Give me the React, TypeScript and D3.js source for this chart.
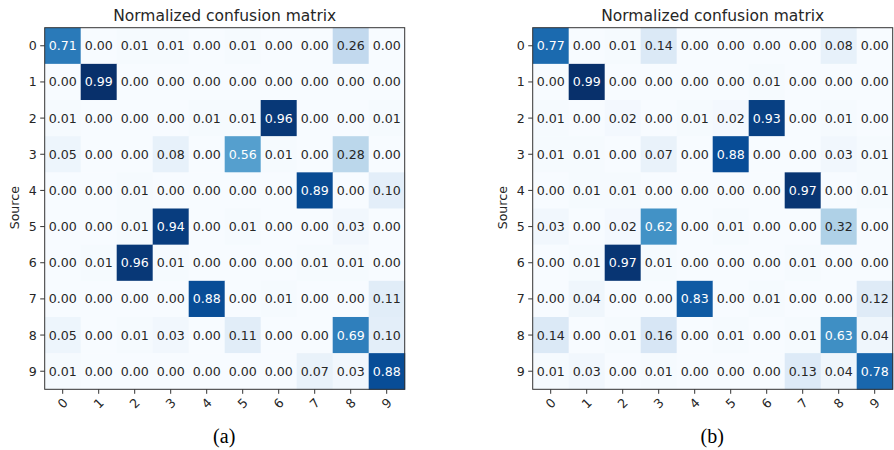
import React, { useEffect, useRef } from "react";
import * as d3 from "d3";

const classes = ["0", "1", "2", "3", "4", "5", "6", "7", "8", "9"];

// (a) rows = source, cols = predicted
const matrixA = [
  [0.71, 0.0, 0.01, 0.01, 0.0, 0.01, 0.0, 0.0, 0.26, 0.0],
  [0.0, 0.99, 0.0, 0.0, 0.0, 0.0, 0.0, 0.0, 0.0, 0.0],
  [0.01, 0.0, 0.0, 0.0, 0.01, 0.01, 0.96, 0.0, 0.0, 0.01],
  [0.05, 0.0, 0.0, 0.08, 0.0, 0.56, 0.01, 0.0, 0.28, 0.0],
  [0.0, 0.0, 0.01, 0.0, 0.0, 0.0, 0.0, 0.89, 0.0, 0.1],
  [0.0, 0.0, 0.01, 0.94, 0.0, 0.01, 0.0, 0.0, 0.03, 0.0],
  [0.0, 0.01, 0.96, 0.01, 0.0, 0.0, 0.0, 0.01, 0.01, 0.0],
  [0.0, 0.0, 0.0, 0.0, 0.88, 0.0, 0.01, 0.0, 0.0, 0.11],
  [0.05, 0.0, 0.01, 0.03, 0.0, 0.11, 0.0, 0.0, 0.69, 0.1],
  [0.01, 0.0, 0.0, 0.0, 0.0, 0.0, 0.0, 0.07, 0.03, 0.88],
];

// (b)
const matrixB = [
  [0.77, 0.0, 0.01, 0.14, 0.0, 0.0, 0.0, 0.0, 0.08, 0.0],
  [0.0, 0.99, 0.0, 0.0, 0.0, 0.0, 0.01, 0.0, 0.0, 0.0],
  [0.01, 0.0, 0.02, 0.0, 0.01, 0.02, 0.93, 0.0, 0.01, 0.0],
  [0.01, 0.01, 0.0, 0.07, 0.0, 0.88, 0.0, 0.0, 0.03, 0.01],
  [0.0, 0.01, 0.01, 0.0, 0.0, 0.0, 0.0, 0.97, 0.0, 0.01],
  [0.03, 0.0, 0.02, 0.62, 0.0, 0.01, 0.0, 0.0, 0.32, 0.0],
  [0.0, 0.01, 0.97, 0.01, 0.0, 0.0, 0.0, 0.01, 0.0, 0.0],
  [0.0, 0.04, 0.0, 0.0, 0.83, 0.0, 0.01, 0.0, 0.0, 0.12],
  [0.14, 0.0, 0.01, 0.16, 0.0, 0.01, 0.0, 0.01, 0.63, 0.04],
  [0.01, 0.03, 0.0, 0.01, 0.0, 0.0, 0.0, 0.13, 0.04, 0.78],
];

const panels = [
  { matrix: matrixA, caption: "(a)", left: 44.7 },
  { matrix: matrixB, caption: "(b)", left: 532.7 },
];

const width = 894;
const height = 450;
const top = 27.7;
const size = 360;
const font = "'DejaVu Sans', sans-serif";

function App() {
  const ref = useRef<SVGSVGElement>(null);

  useEffect(() => {
    const svg = d3.select(ref.current);
    svg.selectAll("*").remove();

    const blues = d3.schemeBlues[9];

    panels.forEach((p) => {
      const flat = p.matrix.flat();
      const vmax = d3.max(flat) as number;
      const vmin = d3.min(flat) as number;
      const color = d3
        .scaleLinear<string>()
        .domain(blues.map((_, i) => vmin + ((vmax - vmin) * i) / (blues.length - 1)))
        .range(blues)
        .interpolate(d3.interpolateRgb)
        .clamp(true);

      const x = d3.scaleBand().domain(classes).range([0, size]);
      const y = d3.scaleBand().domain(classes).range([0, size + 1.6]);

      const g = svg.append("g").attr("transform", `translate(${p.left},${top})`);

      const cells = p.matrix.flatMap((row, i) =>
        row.map((v, j) => ({ r: classes[i], c: classes[j], v }))
      );

      g.selectAll("rect.cell")
        .data(cells)
        .enter()
        .append("rect")
        .attr("class", "cell")
        .attr("x", (d) => x(d.c) as number)
        .attr("y", (d) => y(d.r) as number)
        .attr("width", x.bandwidth() + 0.5)
        .attr("height", y.bandwidth() + 0.5)
        .attr("fill", (d) => color(d.v));

      g.selectAll("text.val")
        .data(cells)
        .enter()
        .append("text")
        .attr("class", "val")
        .attr("x", (d) => (x(d.c) as number) + x.bandwidth() / 2)
        .attr("y", (d) => (y(d.r) as number) + y.bandwidth() / 2)
        .attr("text-anchor", "middle")
        .attr("dominant-baseline", "central")
        .attr("font-family", font)
        .attr("font-size", 12.6)
        .attr("fill", (d) => (d.v > vmax / 2 ? "#ffffff" : "#262626"))
        .text((d) => d.v.toFixed(2));

      // frame
      g.append("rect")
        .attr("x", 0)
        .attr("y", 0)
        .attr("width", size)
        .attr("height", size + 1.6)
        .attr("fill", "none")
        .attr("stroke", "#333")
        .attr("stroke-width", 1);

      // y axis
      const yAxis = g.append("g").attr("class", "y--axis");
      classes.forEach((c) => {
        const cy = (y(c) as number) + y.bandwidth() / 2;
        yAxis
          .append("line")
          .attr("x1", -4.5)
          .attr("x2", 0)
          .attr("y1", cy)
          .attr("y2", cy)
          .attr("stroke", "#333");
        yAxis
          .append("text")
          .attr("x", -8)
          .attr("y", cy)
          .attr("text-anchor", "end")
          .attr("dominant-baseline", "central")
          .attr("font-family", font)
          .attr("font-size", 12.6)
          .attr("fill", "#262626")
          .text(c);
      });

      // x axis
      const xAxis = g.append("g").attr("class", "x--axis").attr("transform", `translate(0,${size + 1.6})`);
      classes.forEach((c) => {
        const cx = (x(c) as number) + x.bandwidth() / 2;
        xAxis
          .append("line")
          .attr("x1", cx)
          .attr("x2", cx)
          .attr("y1", 0)
          .attr("y2", 4.5)
          .attr("stroke", "#333");
        xAxis
          .append("text")
          .attr("transform", `translate(${cx},14) rotate(-45)`)
          .attr("text-anchor", "middle")
          .attr("dominant-baseline", "central")
          .attr("font-family", font)
          .attr("font-size", 12.6)
          .attr("fill", "#262626")
          .text(c);
      });

      g.append("text")
        .attr("transform", `translate(-30,${size / 2}) rotate(-90)`)
        .attr("text-anchor", "middle")
        .attr("dominant-baseline", "central")
        .attr("font-family", font)
        .attr("font-size", 12.6)
        .attr("fill", "#262626")
        .text("Source");

      g.append("text")
        .attr("x", size / 2)
        .attr("y", -7)
        .attr("text-anchor", "middle")
        .attr("font-family", font)
        .attr("font-size", 15.5)
        .attr("fill", "#262626")
        .text("Normalized confusion matrix");

      g.append("text")
        .attr("x", size / 2 - 0.5)
        .attr("y", height - top - 7)
        .attr("text-anchor", "middle")
        .attr("font-family", "'Liberation Serif', 'Times New Roman', serif")
        .attr("font-size", 20)
        .attr("fill", "#000")
        .text(p.caption);
    });
  }, []);

  return (
    <svg
      ref={ref}
      width={width}
      height={height}
      style={{ position: "absolute", left: 0, top: 0, background: "#fff" }}
    />
  );
}

export default App;
